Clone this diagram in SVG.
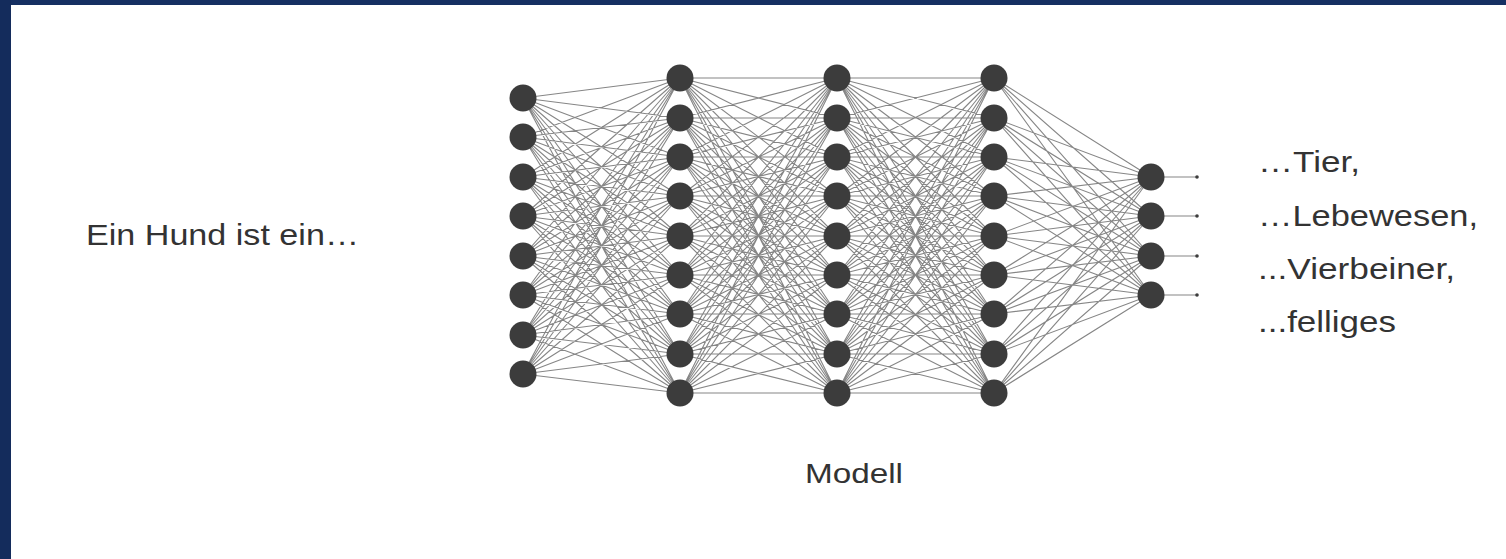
<svg xmlns="http://www.w3.org/2000/svg" xmlns:xlink="http://www.w3.org/1999/xlink" width="1506" height="559" viewBox="0 0 1506 559">
<style>
.edge{stroke:#868686;stroke-width:1.1;fill:none}
.node{fill:#3c3c3c}
.lbl{font-family:"Liberation Sans",Arial,sans-serif;fill:#333333}
</style>
<defs>
<path id="fan89" class="edge" d="M0 98L157 78M0 98L157 118M0 98L157 157M0 98L157 196M0 98L157 236M0 98L157 275M0 98L157 314M0 98L157 354M0 98L157 393M0 137L157 78M0 137L157 118M0 137L157 157M0 137L157 196M0 137L157 236M0 137L157 275M0 137L157 314M0 137L157 354M0 137L157 393M0 177L157 78M0 177L157 118M0 177L157 157M0 177L157 196M0 177L157 236M0 177L157 275M0 177L157 314M0 177L157 354M0 177L157 393M0 216L157 78M0 216L157 118M0 216L157 157M0 216L157 196M0 216L157 236M0 216L157 275M0 216L157 314M0 216L157 354M0 216L157 393M0 256L157 78M0 256L157 118M0 256L157 157M0 256L157 196M0 256L157 236M0 256L157 275M0 256L157 314M0 256L157 354M0 256L157 393M0 295L157 78M0 295L157 118M0 295L157 157M0 295L157 196M0 295L157 236M0 295L157 275M0 295L157 314M0 295L157 354M0 295L157 393M0 335L157 78M0 335L157 118M0 335L157 157M0 335L157 196M0 335L157 236M0 335L157 275M0 335L157 314M0 335L157 354M0 335L157 393M0 374L157 78M0 374L157 118M0 374L157 157M0 374L157 196M0 374L157 236M0 374L157 275M0 374L157 314M0 374L157 354M0 374L157 393"/>
<path id="fan99" class="edge" d="M0 78L157 78M0 78L157 118M0 78L157 157M0 78L157 196M0 78L157 236M0 78L157 275M0 78L157 314M0 78L157 354M0 78L157 393M0 118L157 78M0 118L157 118M0 118L157 157M0 118L157 196M0 118L157 236M0 118L157 275M0 118L157 314M0 118L157 354M0 118L157 393M0 157L157 78M0 157L157 118M0 157L157 157M0 157L157 196M0 157L157 236M0 157L157 275M0 157L157 314M0 157L157 354M0 157L157 393M0 196L157 78M0 196L157 118M0 196L157 157M0 196L157 196M0 196L157 236M0 196L157 275M0 196L157 314M0 196L157 354M0 196L157 393M0 236L157 78M0 236L157 118M0 236L157 157M0 236L157 196M0 236L157 236M0 236L157 275M0 236L157 314M0 236L157 354M0 236L157 393M0 275L157 78M0 275L157 118M0 275L157 157M0 275L157 196M0 275L157 236M0 275L157 275M0 275L157 314M0 275L157 354M0 275L157 393M0 314L157 78M0 314L157 118M0 314L157 157M0 314L157 196M0 314L157 236M0 314L157 275M0 314L157 314M0 314L157 354M0 314L157 393M0 354L157 78M0 354L157 118M0 354L157 157M0 354L157 196M0 354L157 236M0 354L157 275M0 354L157 314M0 354L157 354M0 354L157 393M0 393L157 78M0 393L157 118M0 393L157 157M0 393L157 196M0 393L157 236M0 393L157 275M0 393L157 314M0 393L157 354M0 393L157 393"/>
<path id="fan94" class="edge" d="M0 78L157 177M0 78L157 216M0 78L157 256M0 78L157 295M0 118L157 177M0 118L157 216M0 118L157 256M0 118L157 295M0 157L157 177M0 157L157 216M0 157L157 256M0 157L157 295M0 196L157 177M0 196L157 216M0 196L157 256M0 196L157 295M0 236L157 177M0 236L157 216M0 236L157 256M0 236L157 295M0 275L157 177M0 275L157 216M0 275L157 256M0 275L157 295M0 314L157 177M0 314L157 216M0 314L157 256M0 314L157 295M0 354L157 177M0 354L157 216M0 354L157 256M0 354L157 295M0 393L157 177M0 393L157 216M0 393L157 256M0 393L157 295"/>
</defs>
<rect x="0" y="0" width="1506" height="559" fill="#ffffff"/>
<rect x="0" y="0" width="1506" height="5" fill="#152f62"/>
<rect x="0" y="0" width="11" height="559" fill="#142c5c"/>
<g id="connectors">
<use xlink:href="#fan89" x="523"/>
<use xlink:href="#fan99" x="680"/>
<use xlink:href="#fan99" x="837"/>
<use xlink:href="#fan94" x="994"/>
<path class="edge" d="M1151 177H1197M1151 216H1197M1151 256H1197M1151 295H1197"/>
<g fill="#3c3c3c"><circle cx="1197" cy="177" r="1.8"/><circle cx="1197" cy="216" r="1.8"/><circle cx="1197" cy="256" r="1.8"/><circle cx="1197" cy="295" r="1.8"/></g>
</g>
<g id="layer-input" class="node">
<circle cx="523" cy="98" r="13.5"/><circle cx="523" cy="137" r="13.5"/><circle cx="523" cy="177" r="13.5"/><circle cx="523" cy="216" r="13.5"/><circle cx="523" cy="256" r="13.5"/><circle cx="523" cy="295" r="13.5"/><circle cx="523" cy="335" r="13.5"/><circle cx="523" cy="374" r="13.5"/>
</g>
<g id="layer-hidden1" class="node">
<circle cx="680" cy="78" r="13.5"/><circle cx="680" cy="118" r="13.5"/><circle cx="680" cy="157" r="13.5"/><circle cx="680" cy="196" r="13.5"/><circle cx="680" cy="236" r="13.5"/><circle cx="680" cy="275" r="13.5"/><circle cx="680" cy="314" r="13.5"/><circle cx="680" cy="354" r="13.5"/><circle cx="680" cy="393" r="13.5"/>
</g>
<g id="layer-hidden2" class="node">
<circle cx="837" cy="78" r="13.5"/><circle cx="837" cy="118" r="13.5"/><circle cx="837" cy="157" r="13.5"/><circle cx="837" cy="196" r="13.5"/><circle cx="837" cy="236" r="13.5"/><circle cx="837" cy="275" r="13.5"/><circle cx="837" cy="314" r="13.5"/><circle cx="837" cy="354" r="13.5"/><circle cx="837" cy="393" r="13.5"/>
</g>
<g id="layer-hidden3" class="node">
<circle cx="994" cy="78" r="13.5"/><circle cx="994" cy="118" r="13.5"/><circle cx="994" cy="157" r="13.5"/><circle cx="994" cy="196" r="13.5"/><circle cx="994" cy="236" r="13.5"/><circle cx="994" cy="275" r="13.5"/><circle cx="994" cy="314" r="13.5"/><circle cx="994" cy="354" r="13.5"/><circle cx="994" cy="393" r="13.5"/>
</g>
<g id="layer-output" class="node">
<circle cx="1151" cy="177" r="13.5"/><circle cx="1151" cy="216" r="13.5"/><circle cx="1151" cy="256" r="13.5"/><circle cx="1151" cy="295" r="13.5"/>
</g>
<g id="input-text"><text class="lbl" x="86" y="245" font-size="30" textLength="273" lengthAdjust="spacingAndGlyphs">Ein Hund ist ein…</text></g>
<g id="model-label"><text class="lbl" x="805" y="483" font-size="28" textLength="98" lengthAdjust="spacingAndGlyphs">Modell</text></g>
<g id="output-text">
<text class="lbl" x="1258" y="172" font-size="30" textLength="102" lengthAdjust="spacingAndGlyphs">…Tier,</text>
<text class="lbl" x="1258" y="226" font-size="30" textLength="220" lengthAdjust="spacingAndGlyphs">…Lebewesen,</text>
<text class="lbl" x="1258" y="279" font-size="30" textLength="197" lengthAdjust="spacingAndGlyphs">...Vierbeiner,</text>
<text class="lbl" x="1258" y="332" font-size="30" textLength="138" lengthAdjust="spacingAndGlyphs">...felliges</text>
</g>
</svg>
